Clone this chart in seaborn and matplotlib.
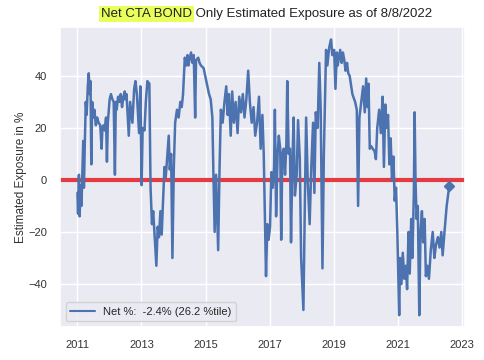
import matplotlib

matplotlib.use('Agg')
import matplotlib.pyplot as plt
import seaborn as sns
import pandas as pd

# Данные: оценка позиции CTA в облигациях, %
dates = [
    '2011-01-03', '2011-01-10', '2011-01-20', '2011-01-28', '2011-02-08', '2011-02-18',
    '2011-03-01', '2011-03-10', '2011-03-18', '2011-03-28', '2011-04-08', '2011-04-18',
    '2011-05-01', '2011-05-12', '2011-05-22', '2011-06-01', '2011-06-10', '2011-06-20',
    '2011-07-01', '2011-07-15', '2011-08-01', '2011-08-15', '2011-09-01', '2011-09-20',
    '2011-10-05', '2011-10-15', '2011-10-25', '2011-11-10', '2011-11-25', '2011-12-05',
    '2011-12-15', '2012-01-05', '2012-01-20', '2012-02-05', '2012-02-20', '2012-03-05',
    '2012-03-15', '2012-03-25', '2012-04-10', '2012-04-25', '2012-05-10', '2012-05-25',
    '2012-06-10', '2012-06-25', '2012-07-01', '2012-07-15',
    '2012-08-10', '2012-08-25', '2012-09-20', '2012-10-10', '2012-10-25', '2012-11-10',
    '2012-12-05', '2012-12-20', '2013-01-03', '2013-01-15', '2013-02-05', '2013-02-20',
    '2013-03-10', '2013-04-01', '2013-04-15', '2013-05-01', '2013-05-15', '2013-06-05',
    '2013-06-20', '2013-07-05', '2013-07-20', '2013-08-05', '2013-08-20', '2013-09-05',
    '2013-09-20', '2013-10-05', '2013-10-20', '2013-11-08', '2013-11-20', '2013-12-05',
    '2013-12-20', '2014-01-05', '2014-01-20', '2014-02-10', '2014-03-01', '2014-03-20',
    '2014-04-05', '2014-04-20', '2014-05-10', '2014-05-25', '2014-06-10', '2014-06-20',
    '2014-07-01', '2014-07-20', '2014-08-05', '2014-08-20', '2014-09-05', '2014-09-15',
    '2014-10-10', '2014-10-25', '2014-11-10',
    '2014-12-10', '2015-01-10', '2015-02-10', '2015-03-01', '2015-03-20', '2015-04-01',
    '2015-04-15', '2015-05-01', '2015-05-25', '2015-06-10', '2015-06-25', '2015-07-15',
    '2015-08-05', '2015-08-25', '2015-09-10', '2015-09-25', '2015-10-15', '2015-11-01',
    '2015-11-20', '2015-12-10', '2016-01-01', '2016-01-20', '2016-02-10', '2016-03-01',
    '2016-03-20', '2016-04-10', '2016-05-01', '2016-05-20', '2016-06-10', '2016-07-01',
    '2016-07-20', '2016-08-10', '2016-09-01', '2016-09-20', '2016-10-10', '2016-10-25',
    '2016-11-10', '2016-11-20', '2016-12-05', '2016-12-20', '2017-01-05', '2017-01-20',
    '2017-02-05', '2017-02-20', '2017-03-01', '2017-03-15', '2017-04-01', '2017-04-15',
    '2017-05-01', '2017-05-12', '2017-05-25', '2017-06-10', '2017-06-25', '2017-07-10',
    '2017-07-20', '2017-08-05', '2017-08-20', '2017-09-01', '2017-09-15', '2017-10-01',
    '2017-10-15', '2017-11-05', '2017-11-20', '2017-12-10', '2017-12-25', '2018-01-20',
    '2018-02-05', '2018-02-20', '2018-03-10', '2018-04-01', '2018-04-20', '2018-05-10',
    '2018-05-25', '2018-06-10', '2018-07-01', '2018-07-20', '2018-08-05', '2018-08-25',
    '2018-09-10', '2018-10-05', '2018-10-20', '2018-11-10', '2018-12-01', '2018-12-15',
    '2019-01-05', '2019-01-20', '2019-02-05', '2019-02-15', '2019-03-01', '2019-03-15',
    '2019-04-01', '2019-04-15', '2019-05-01', '2019-05-15', '2019-06-01', '2019-06-15',
    '2019-07-01', '2019-08-01', '2019-09-01', '2019-09-20', '2019-10-05',
    '2019-10-20', '2019-11-10', '2019-12-01', '2019-12-20', '2020-01-05', '2020-01-20',
    '2020-02-01', '2020-02-15', '2020-03-01', '2020-03-20', '2020-04-10', '2020-04-25',
    '2020-05-10', '2020-06-01', '2020-06-20', '2020-07-10', '2020-07-25', '2020-08-10',
    '2020-08-25', '2020-09-10', '2020-09-25', '2020-10-10', '2020-10-25', '2020-11-10',
    '2020-11-25', '2020-12-10', '2020-12-25', '2021-01-15', '2021-01-25', '2021-02-10',
    '2021-02-25', '2021-03-15', '2021-04-01', '2021-04-15', '2021-05-01', '2021-05-15',
    '2021-06-01', '2021-06-15', '2021-07-01', '2021-07-10', '2021-07-20', '2021-08-01',
    '2021-08-15', '2021-09-01', '2021-09-15', '2021-10-01', '2021-10-15', '2021-11-01',
    '2021-11-15', '2021-12-01', '2021-12-20', '2022-01-10', '2022-02-01', '2022-02-20',
    '2022-03-10', '2022-04-01', '2022-04-20', '2022-05-10', '2022-05-25', '2022-06-15',
    '2022-07-10', '2022-08-08',
]
exposure = [
    -5, -13, 2, -14, -2, -10,
    4, 15, -3, 14, 30, 25,
    36, 41, 33, 38, 6, 30,
    24, 27, 21, 24, 22, 21,
    12, 20, 21, 19, 24, 7,
    22, 31, 33, 31, 30, 2,
    30, 27, 32, 30, 33, 28,
    32, 34, 31, 33,
    17, 30, 22, 35, 38, 33,
    18, 36, -2, 20, 19, 30,
    38, 37, -3, -17, -12, -24,
    -33, -18, -22, -12, -21, -8,
    5, 1, 8, 17, 4, 10,
    -30, 5, 22, 27, 24, 30,
    28, 33, 47, 44, 48, 44,
    46, 49, 45, 48, 24, 46,
    47, 45, 44,
    43, 38, 33, 31, 24, 2,
    -20, 2, -27, 5, 27, 22,
    30, 36, 25, 33, 17, 34,
    22, 30, 18, 32, 26, 33,
    24, 31, 42, 30, 22, 28,
    17, 22, 32, 12, 25, 10,
    -20, -37, -17, -23, -18, 3,
    -3, 5, 27, -14, 10, 17,
    12, -23, 10, 12, 2, 14,
    38, 10, 12, -24, 5, 24,
    -6, 2, 23, 8, -30, -50,
    -10, 24, 0, -17, 5, 22,
    -5, 26, 20, 45, 27, -34,
    10, 50, 44, 51, 54, 48,
    50, 35, 49, 44, 47, 50,
    45, 49, 46, 42, 45, 41,
    40, 33, 30, 27, -10,
    24, 30, 36, 26, 39, 28,
    37, 12, 13, 12, 11, 8,
    20, 27, 18, 32, 5, 29,
    20, 25, 6, 16, 0, 9,
    -8, -3, -20, -52, -30, -40,
    -28, -38, -33, -42, -20, -36,
    -15, -30, -5, 26, 0, -15,
    -10, -52, -20, -12, -24, -15,
    -37, -33, -38, -27, -20, -30,
    -25, -22, -26, -20, -29, -20,
    -10, -2.4,
]
year_ticks = ['2011', '2013', '2015', '2017', '2019', '2021', '2023']
y_ticks = [-40, -20, 0, 20, 40]
legend_label = 'Net %:  -2.4% (26.2 %tile)'

sns.set_theme(style='darkgrid')
plt.rcParams['font.family'] = ['Liberation Sans', 'DejaVu Sans']

df = pd.DataFrame({'date': pd.to_datetime(dates), 'exposure': exposure})

fig = plt.figure(figsize=(4.85, 3.6), dpi=100)
ax = fig.add_axes([0.124, 0.092, 0.835, 0.833])

ax.axhline(0, color='#e33b3f', lw=3, zorder=1)
sns.lineplot(data=df, x='date', y='exposure', ax=ax, color='#4c72b0', lw=1.8,
             label=legend_label, zorder=2)
last = df.iloc[[-1]]
ax.plot(last['date'], last['exposure'], marker='D', ms=5, color='#4c72b0', zorder=3)

ax.set_xlim(pd.Timestamp('2010-06-20'), pd.Timestamp('2023-02-05'))
ax.set_ylim(-56.5, 58.8)
ax.set_xticks(pd.to_datetime([y + '-01-01' for y in year_ticks]))
ax.set_xticklabels(year_ticks)
ax.set_yticks(y_ticks)
ax.tick_params(labelsize=8, colors='#333333')
ax.set_xlabel('')
ax.set_ylabel('Estimated Exposure in %', fontsize=8.5, color='#333333', labelpad=1)

leg = ax.legend(loc='lower left', fontsize=8, frameon=True, handlelength=2.2)
for line in leg.get_lines():
    line.set_linewidth(1.5)

# Заголовок с подсветкой первой части
t1 = fig.text(0.208, 0.945, 'Net CTA BOND', fontsize=9.5, color='#222222',
              va='bottom', ha='left',
              bbox=dict(facecolor='#e9ff5c', edgecolor='none', pad=1.5))
ax.annotate(' Only Estimated Exposure as of 8/8/2022', xy=(1, 0), xycoords=t1,
            fontsize=9.5, color='#222222', va='bottom', ha='left',
            annotation_clip=False)

fig.savefig('out.png', dpi=100)
